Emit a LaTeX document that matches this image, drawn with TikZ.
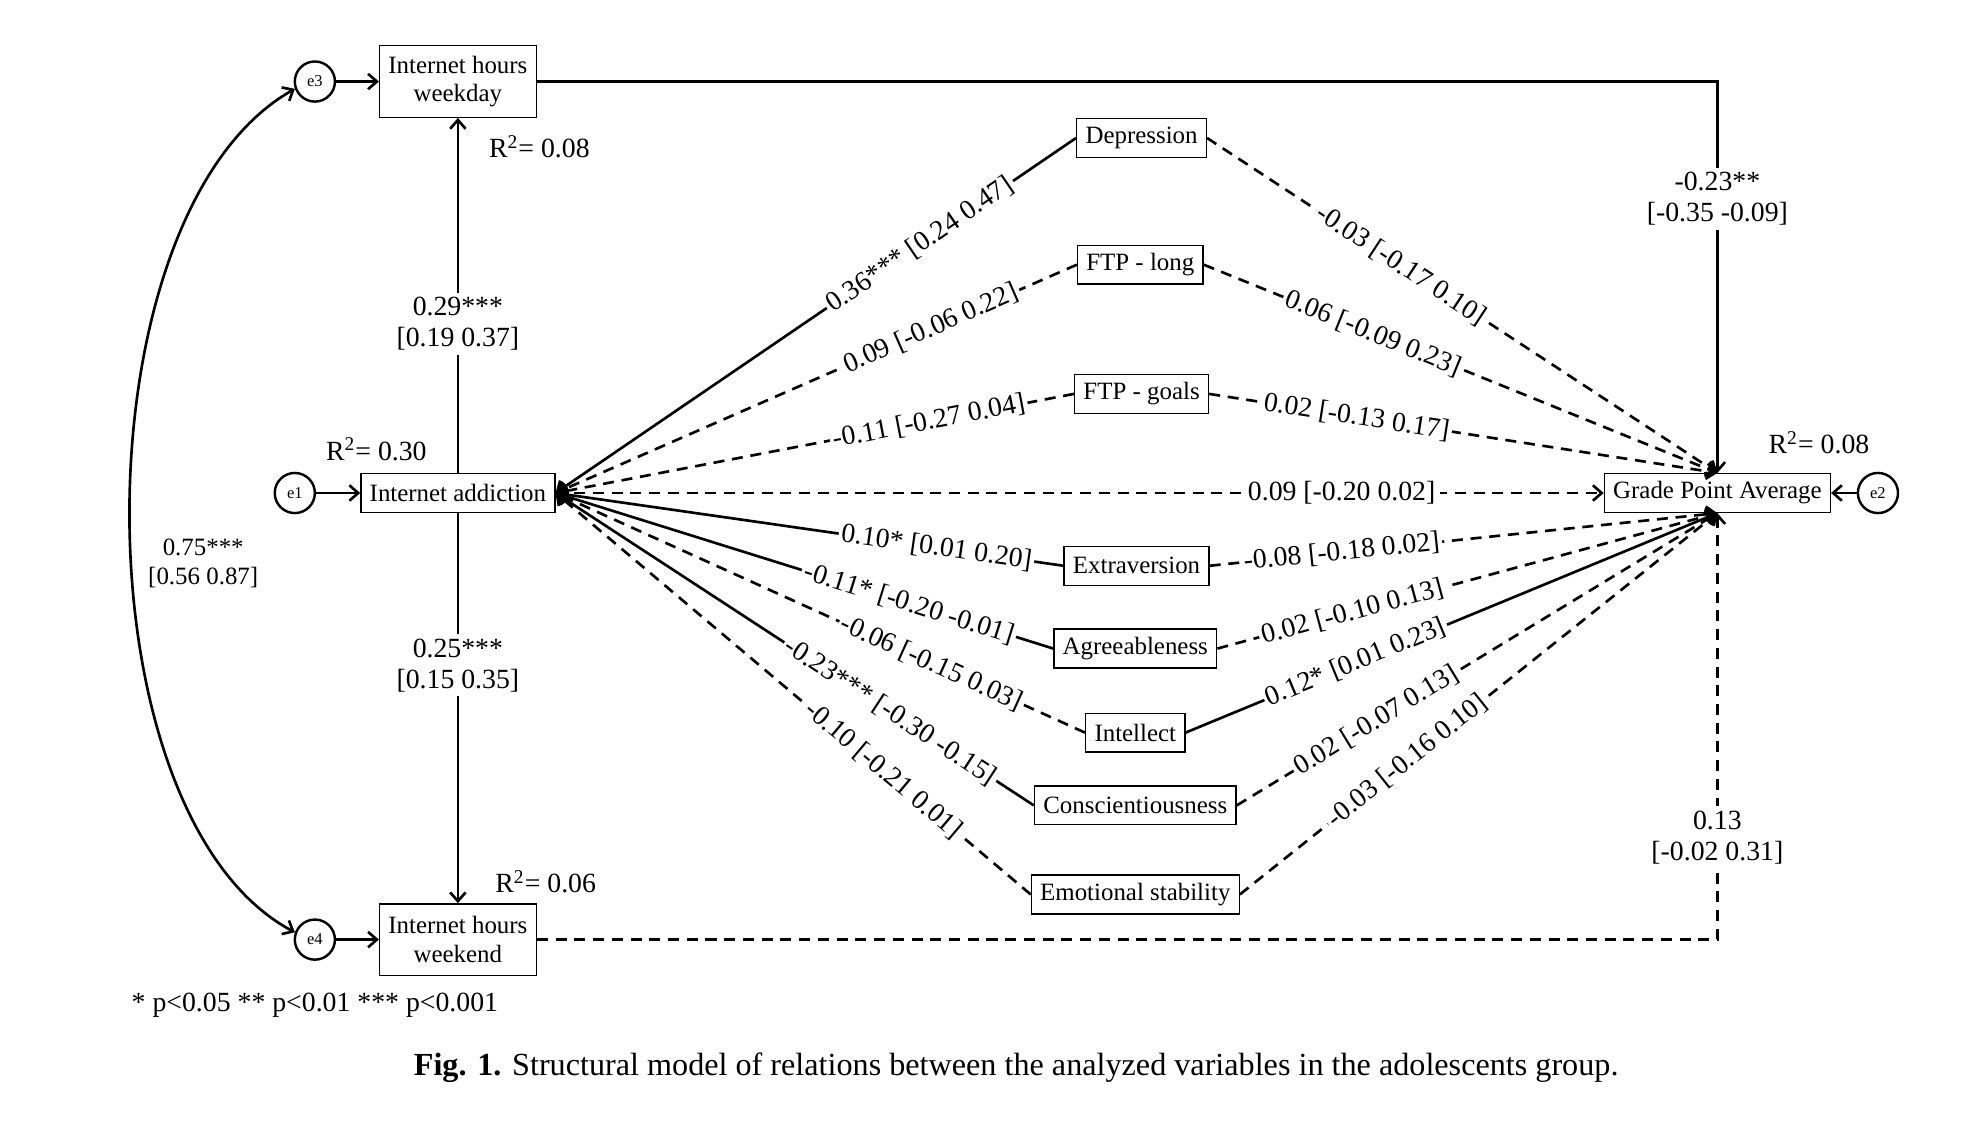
\documentclass[tikz,border=0pt]{standalone}
\usepackage{fontspec}
\setmainfont{Liberation Serif}
\usetikzlibrary{arrows.meta}

\begin{document}
\begin{tikzpicture}[
  x=0.02cm, y=-0.02cm,
  font=\fontsize{11.3}{13}\selectfont,
  box/.style={rectangle,draw=black,line width=.6pt,fill=white,inner xsep=4pt,inner ysep=3pt,minimum height=.62cm,align=center},
  twoline/.style={box,minimum height=1.14cm},
  err/.style={circle,draw=black,line width=1.1pt,minimum size=.64cm,inner sep=0pt,font=\fontsize{7.5}{8}\selectfont},
  path/.style={-{Straight Barb[length=4pt,width=7pt]},line width=1.2pt},
  ns/.style={path,dash pattern=on 5pt off 3.5pt},
  cov/.style={{Straight Barb[length=4pt,width=7pt]}-{Straight Barb[length=4pt,width=7pt]},line width=1.2pt},
  coef/.style={fill=white,inner sep=1.2pt,sloped,font=\fontsize{12.6}{14}\selectfont},
  est/.style={fill=white,inner sep=2pt,align=center,font=\fontsize{12.6}{14}\selectfont},
  note/.style={align=center,font=\fontsize{12.6}{14}\selectfont}
]
% Solid lines are significant paths, dashed lines are not significant.
% Mediators sit in the middle column between addiction and the grade average.
\useasboundingbox (0,0) rectangle (1568,902);

\node[twoline] (wd) at (365,65) {Internet hours\\weekday};
\node[box] (ia) at (365,393) {Internet addiction};
\node[twoline] (we) at (365,749) {Internet hours\\weekend};
\node[box] (gpa) at (1369,393) {Grade Point Average};

\node[box] (dep) at (910,110) {Depression};
\node[box] (ftpl) at (909,211) {FTP - long};
\node[box] (ftpg) at (910,314) {FTP - goals};
\node[box] (ext) at (906,451) {Extraversion};
\node[box] (agr) at (905,517) {Agreeableness};
\node[box] (itl) at (905,584) {Intellect};
\node[box] (con) at (905,642) {Conscientiousness};
\node[box] (emo) at (905,713) {Emotional stability};

\node[err] (e1) at (235,393) {e1};
\node[err] (e2) at (1497,393) {e2};
\node[err] (e3) at (251,65) {e3};
\node[err] (e4) at (251,749) {e4};

\draw[path] (e1) -- (ia);
\draw[path] (e2) -- (gpa);
\draw[path] (e3) -- (wd);
\draw[path] (e4) -- (we);
\draw[cov] (e3.200) .. controls (60,170) and (60,650) .. (e4.160);

\draw[path] (ia) -- node[est,pos=.42]{0.29***\\{}[0.19 0.37]} (wd);
\draw[path] (ia) -- node[est,pos=.39]{0.25***\\{}[0.15 0.35]} (we);
\draw[path] (wd) -| node[est,pos=.65]{-0.23**\\{}[-0.35 -0.09]} (gpa);
\draw[ns] (we) -| node[est,pos=.62]{0.13\\{}[-0.02 0.31]} (gpa);
\draw[ns] (ia) -- node[est,pos=.75]{0.09 [-0.20 0.02]} (gpa);

\draw[path] (dep.west) -- node[coef,pos=.30]{0.36*** [0.24 0.47]} (ia.east);
\draw[ns] (ftpl.west) -- node[coef,pos=.28]{0.09 [-0.06 0.22]} (ia.east);
\draw[ns] (ftpg.west) -- node[coef,pos=.28]{-0.11 [-0.27 0.04]} (ia.east);
\draw[path] (ext.west) -- node[coef,pos=.25]{0.10* [0.01 0.20]} (ia.east);
\draw[path] (agr.west) -- node[coef,pos=.29]{-0.11* [-0.20 -0.01]} (ia.east);
\draw[ns] (itl.west) -- node[coef,pos=.29]{-0.06 [-0.15 0.03]} (ia.east);
\draw[path] (con.west) -- node[coef,pos=.30]{-0.23*** [-0.30 -0.15]} (ia.east);
\draw[ns] (emo.west) -- node[coef,pos=.31]{-0.10 [-0.21 0.01]} (ia.east);

\draw[ns] (dep.east) -- node[coef,pos=.38]{-0.03 [-0.17 0.10]} (gpa.north);
\draw[ns] (ftpl.east) -- node[coef,pos=.33]{0.06 [-0.09 0.23]} (gpa.north);
\draw[ns] (ftpg.east) -- node[coef,pos=.29]{0.02 [-0.13 0.17]} (gpa.north);
\draw[ns] (ext.east) -- node[coef,pos=.26]{-0.08 [-0.18 0.02]} (gpa.south);
\draw[ns] (agr.east) -- node[coef,pos=.27]{0.02 [-0.10 0.13]} (gpa.south);
\draw[path] (itl.east) -- node[coef,pos=.32]{0.12* [0.01 0.23]} (gpa.south);
\draw[ns] (con.east) -- node[coef,pos=.29]{0.02 [-0.07 0.13]} (gpa.south);
\draw[ns] (emo.east) -- node[coef,pos=.35]{-0.03 [-0.16 0.10]} (gpa.south);

\node[note] (r2wd) at (430,117) {R\textsuperscript{2}= 0.08};
\node[note] (r2ia) at (300,358) {R\textsuperscript{2}= 0.30};
\node[note] (r2we) at (435,703) {R\textsuperscript{2}= 0.06};
\node[note] (r2gpa) at (1450,353) {R\textsuperscript{2}= 0.08};
\node[align=center] (covlab) at (162,449) {0.75***\\{}[0.56 0.87]};
\node[note] (sig) at (251,801) {* p<0.05 ** p<0.01 *** p<0.001};
\node[font=\fontsize{14.6}{16}\selectfont] (cap) at (810,851) {\textbf{Fig. 1.} Structural model of relations between the analyzed variables in the adolescents group.};
\end{tikzpicture}
\end{document}
